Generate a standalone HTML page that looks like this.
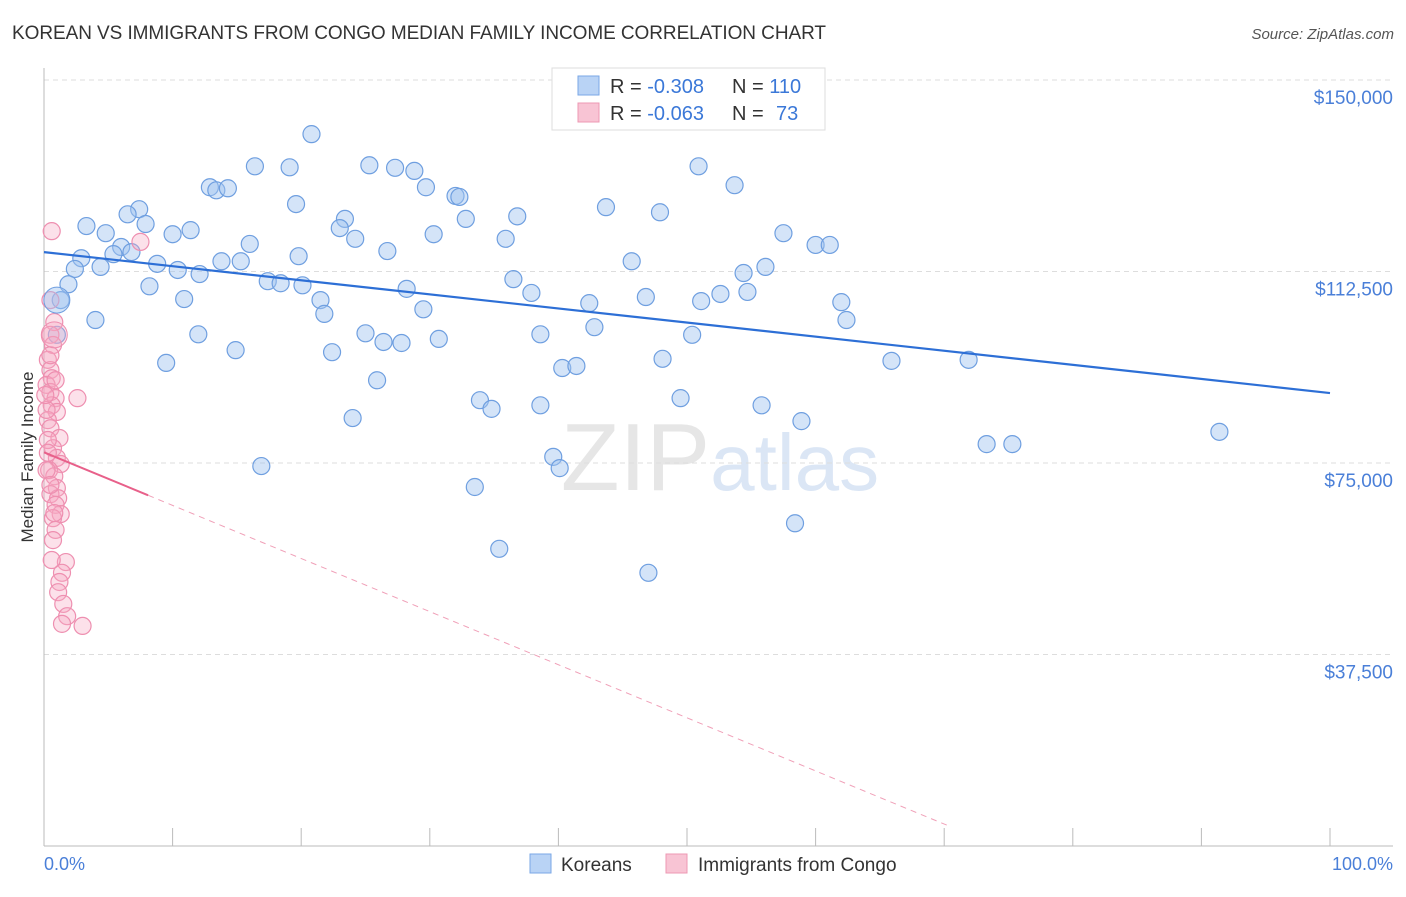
<!DOCTYPE html>
<html><head><meta charset="utf-8"><style>
body{margin:0;background:#fff;font-family:"Liberation Sans",sans-serif;}
svg text{font-family:"Liberation Sans",sans-serif;}
</style></head><body>
<svg id="chart" width="1406" height="892" viewBox="0 0 1406 892" xmlns="http://www.w3.org/2000/svg">
<text x="12" y="39" font-size="19" fill="#333" textLength="814">KOREAN VS IMMIGRANTS FROM CONGO MEDIAN FAMILY INCOME CORRELATION CHART</text>
<text x="1394" y="39" font-size="15" fill="#555" text-anchor="end" font-style="italic">Source: ZipAtlas.com</text>
<text x="720" y="490" font-size="96" text-anchor="middle" fill="#e6e6e6" font-family="Liberation Serif,serif">ZIP<tspan fill="#dbe6f5" font-family="Liberation Sans,sans-serif" font-size="80">atlas</tspan></text>
<g id="grid"></g><g id="axes"></g><g id="pts"></g><g id="trend"></g>
<text transform="translate(33,457) rotate(-90)" font-size="17" fill="#333" text-anchor="middle">Median Family Income</text>
<text x="44" y="870" font-size="18" fill="#4a7fd8">0.0%</text>
<text x="1393" y="870" font-size="18" fill="#4a7fd8" text-anchor="end">100.0%</text>
<g>
<rect x="552" y="68" width="273" height="62" fill="#fff" stroke="#ddd"/>
<rect x="578" y="76" width="21" height="19" fill="#b9d3f5" stroke="#7aa7e6"/>
<rect x="578" y="103" width="21" height="19" fill="#f8c4d4" stroke="#ee98b3"/>
<text x="610" y="93" font-size="20" fill="#333">R = <tspan fill="#3b78d8">-0.308</tspan></text>
<text x="732" y="93" font-size="20" fill="#333">N = <tspan fill="#3b78d8">110</tspan></text>
<text x="610" y="120" font-size="20" fill="#333">R = <tspan fill="#3b78d8">-0.063</tspan></text>
<text x="732" y="120" font-size="20" fill="#333">N = </text>
<text x="776" y="120" font-size="20" fill="#3b78d8">73</text>
</g>
<g>
<rect x="530" y="854" width="21" height="19" fill="#b9d3f5" stroke="#7aa7e6"/>
<text x="561" y="871" font-size="19" fill="#333">Koreans</text>
<rect x="666" y="854" width="21" height="19" fill="#f8c4d4" stroke="#ee98b3"/>
<text x="698" y="871" font-size="19" fill="#333">Immigrants from Congo</text>
</g>
</svg>
<script>
const yTicks=[37500,75000,112500,150000];
const yTickLabels=["$37,500","$75,000","$112,500","$150,000"];
const koreanX=[20.8,19.1,16.4,25.3,27.3,28.8,50.9,12.9,13.4,14.3,29.7,32.0,32.3,53.7,7.4,6.5,19.6,43.7,47.9,36.8,32.8,23.4,3.3,7.9,4.8,10.0,11.4,23.0,24.2,30.3,35.9,57.5,60.0,61.1,6.0,5.4,6.8,16.0,26.7,2.9,8.8,10.4,12.1,13.8,15.3,19.8,45.7,56.1,54.4,2.4,4.4,17.4,18.4,20.1,36.5,8.2,1.9,28.2,37.9,10.9,21.5,42.4,46.8,51.1,52.6,54.7,62.0,1.3,21.8,29.5,62.4,4.0,42.8,25.0,12.0,26.4,27.8,30.7,38.6,50.4,1.0,14.9,22.4,9.5,48.1,65.9,71.9,40.3,41.4,25.9,33.9,34.8,38.6,49.5,55.8,24.0,58.9,73.3,75.3,91.4,16.9,39.6,40.1,33.5,58.4,35.4,47.0,51.9];
const koreanY=[139.4,132.9,133.1,133.3,132.8,132.2,133.1,129.0,128.4,128.8,129.0,127.3,127.1,129.4,124.7,123.7,125.7,125.1,124.1,123.3,122.8,122.8,121.4,121.8,120.0,119.8,120.6,121.0,118.9,119.8,118.9,120.0,117.7,117.7,117.3,115.9,116.3,117.9,116.5,115.1,114.0,112.8,112.0,114.5,114.5,115.5,114.5,113.4,112.2,113.0,113.4,110.6,110.2,109.8,111.0,109.6,110.0,109.1,108.3,107.1,106.9,106.3,107.5,106.7,108.1,108.5,106.5,106.9,104.2,105.1,103.0,103.0,101.6,100.4,100.2,98.7,98.5,99.3,100.2,100.1,100.1,97.1,96.7,94.6,95.4,95.0,95.2,93.6,94.0,91.2,87.3,85.6,86.3,87.7,86.3,83.8,83.2,78.7,78.7,81.1,74.4,76.2,74.0,70.3,63.2,58.2,53.5,146.9];
const congoX=[0.6,7.5,0.5,0.8,0.5,0.7,0.3,0.5,0.6,0.2,0.5,0.9,2.6,0.6,1.0,0.3,0.5,1.2,0.7,1.0,1.3,0.4,0.8,1.0,0.5,1.1,0.9,1.3,0.7,0.9,0.7,1.7,0.6,1.4,1.2,1.1,1.5,1.8,1.4,3.0,0.3,0.2,0.5,0.9,0.2,0.5,0.8,0.1,0.3];
const congoY=[120.4,118.3,106.9,102.6,100.1,98.1,95.2,93.2,91.6,90.3,88.9,87.7,87.7,86.3,85.0,83.4,81.8,79.9,77.9,76.0,74.8,73.6,72.4,70.1,68.9,68.1,66.8,65.0,64.2,61.9,59.9,55.6,56.0,53.5,51.7,49.7,47.4,45.0,43.5,43.1,79.5,85.4,96.1,91.2,73.6,70.7,65.2,88.3,77.0];
const koreanTrend=[116.3,88.7];
const congoTrend=[77.1,-1.04];
const NS="http://www.w3.org/2000/svg";
const X0=44,X1=1330,YB=846,PPK=191.5/37.5;
function sx(p){return X0+(X1-X0)*p/100;}
function sy(k){return YB-k*PPK;}
function mk(tag,attrs,parent){const e=document.createElementNS(NS,tag);for(const k in attrs)e.setAttribute(k,attrs[k]);document.getElementById(parent).appendChild(e);return e;}
yTicks.forEach((v,i)=>{
 const g=mk('line',{x1:44,x2:1393,y1:sy(v/1000),y2:sy(v/1000),stroke:'#ddd','stroke-dasharray':'5,4'},'grid');
 
 
 const t=mk('text',{x:1393,y:sy(v/1000)+24,'font-size':19,fill:'#4a7fd8','text-anchor':'end'},'grid');
 t.textContent=yTickLabels[i];
 
 
});
let a=mk('line',{x1:44,x2:44,y1:68,y2:846,stroke:'#bbb'},'axes');


a=mk('line',{x1:44,x2:1393,y1:846,y2:846,stroke:'#bbb'},'axes');


for(let i=0;i<=10;i++){
 const t=mk('line',{x1:sx(i*10),x2:sx(i*10),y1:828,y2:846,stroke:'#bbb'},'axes');
 
 
}
function dots(xs,ys,fill,stroke,name){
 xs.forEach((x,i)=>{
  const c=mk('circle',{cx:sx(x),cy:sy(ys[i]),r:8.5,fill:fill,stroke:stroke,'stroke-width':1.2},'pts');
  
  
 });
}
dots(koreanX,koreanY,'rgba(160,195,240,0.45)','#6f9fe0','korean-point');
dots(congoX,congoY,'rgba(245,170,195,0.35)','#ee8fb0','congo-point');
let big=mk('circle',{cx:sx(1.0),cy:sy(106.9),r:13,fill:'rgba(160,195,240,0.45)',stroke:'#6f9fe0'},'pts');


big=mk('circle',{cx:sx(0.8),cy:sy(100.1),r:13,fill:'rgba(245,170,195,0.35)',stroke:'#ee8fb0'},'pts');


let l=mk('line',{x1:sx(0),y1:sy(koreanTrend[0]),x2:sx(100),y2:sy(koreanTrend[1]),stroke:'#2d6fd6','stroke-width':2.2},'trend');


l=mk('line',{x1:sx(0),y1:sy(congoTrend[0]),x2:sx(8.1),y2:sy(congoTrend[0]+congoTrend[1]*8.1),stroke:'#e8608a','stroke-width':2},'trend');


l=mk('line',{x1:sx(8.1),y1:sy(congoTrend[0]+congoTrend[1]*8.1),x2:sx(70.5),y2:sy(congoTrend[0]+congoTrend[1]*70.5),stroke:'#f0a0b8','stroke-width':1,'stroke-dasharray':'6,5'},'trend');


</script>
</body></html>
